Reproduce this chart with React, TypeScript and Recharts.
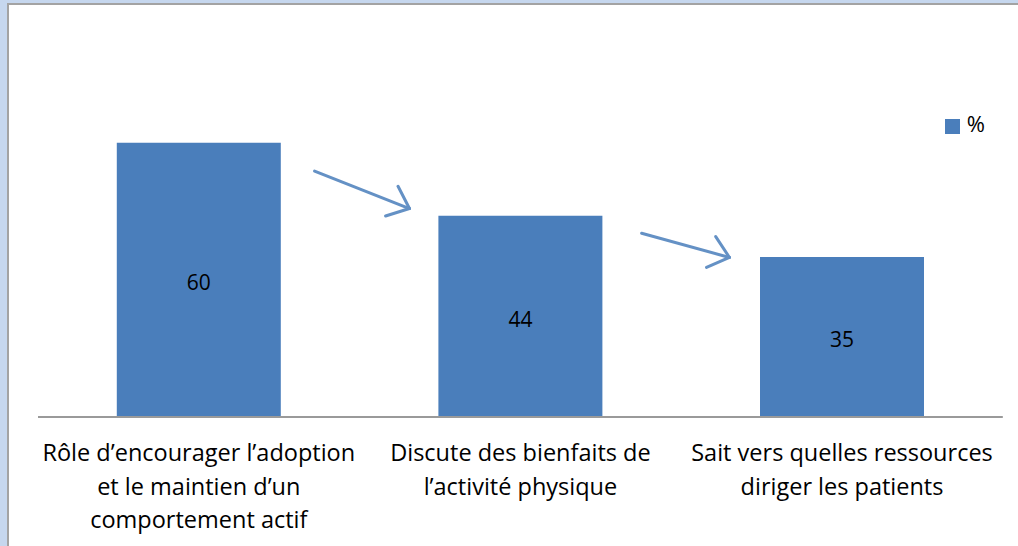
import {
  BarChart,
  Bar,
  XAxis,
  YAxis,
  Legend,
  LabelList,
  ReferenceLine,
} from "recharts";

const categories = [
  "Rôle d’encourager l’adoption\net le maintien d’un\ncomportement actif",
  "Discute des bienfaits de\nl’activité physique",
  "Sait vers quelles ressources\ndiriger les patients",
];
const percents = [60, 44, 35];
const seriesName = "%";

// decorative arrows between neighbouring bars: values at both ends,
// and where the arrow starts/ends as a fraction of the gap between bar centres
const arrows = [
  { from: 0, to: 1, y1: 53.8, y2: 45.6, t1: 0.36, t2: 0.655 },
  { from: 1, to: 2, y1: 40.2, y2: 34.9, t1: 0.377, t2: 0.65 },
];

const data = categories.map((name, i) => ({ name, value: percents[i] }));

const BLUE = "#4A7EBB";
const FONT = "'Open Sans', 'Liberation Sans', Arial, sans-serif";

const CategoryTick = (props: any) => {
  const { x, y, payload } = props;
  const lines = String(payload.value).split("\n");
  return (
    <g transform={`translate(${x},${y})`}>
      {lines.map((line: string, i: number) => (
        <text
          key={i}
          x={0}
          y={0}
          dy={36 + i * 33.5}
          textAnchor="middle"
          fill="#000"
          fontSize={23.5}
          fontFamily={FONT}
        >
          {line}
        </text>
      ))}
    </g>
  );
};

const Arrow = (props: any) => {
  const { x1, y1, x2, y2, t1, t2 } = props;
  const sx = x1 + (x2 - x1) * t1;
  const ex = x1 + (x2 - x1) * t2;
  const ang = Math.atan2(y2 - y1, ex - sx);
  const len = 25;
  const b1 = ang + Math.PI - 0.68;
  const b2 = ang + Math.PI + 0.72;
  return (
    <g stroke={BLUE} strokeWidth={3} strokeLinecap="round" fill="none" opacity={0.85}>
      <line x1={sx} y1={y1} x2={ex} y2={y2} />
      <line x1={ex} y1={y2} x2={ex + len * Math.cos(b1)} y2={y2 + len * Math.sin(b1)} />
      <line x1={ex} y1={y2} x2={ex + len * Math.cos(b2)} y2={y2 + len * Math.sin(b2)} />
    </g>
  );
};

export default function App() {
  return (
    <div
      style={{
        position: "fixed",
        left: 0,
        top: 0,
        width: 1018,
        height: 546,
        background: "#C6D7EE",
        overflow: "hidden",
      }}
    >
      <div
        style={{
          position: "absolute",
          left: 7,
          top: 3,
          right: 0,
          bottom: 0,
          background: "#fff",
          borderLeft: "2px solid #A3A3A3",
          borderTop: "2px solid #A3A3A3",
        }}
      />
      <div style={{ position: "absolute", left: 0, top: 0 }}>
        <BarChart
          width={1018}
          height={546}
          data={data}
          margin={{ top: 97, right: -35, bottom: 128, left: 38 }}
          barCategoryGap="24.5%"
        >
          <XAxis
            dataKey="name"
            interval={0}
            tickLine={false}
            axisLine={{ stroke: "#9A9A9A", strokeWidth: 2 }}
            tick={<CategoryTick />}
            height={1}
          />
          <YAxis domain={[0, 70]} hide />
          <Legend
            layout="vertical"
            align="right"
            verticalAlign="top"
            iconType="square"
            iconSize={15}
            wrapperStyle={{ top: 108, right: 23, fontFamily: FONT, fontSize: 22 }}
            formatter={(v: string) => (
              <span style={{ color: "#000", marginLeft: 3 }}>{v}</span>
            )}
          />
          <Bar dataKey="value" name={seriesName} fill={BLUE} isAnimationActive={false}>
            <LabelList
              dataKey="value"
              position="center"
              fill="#000"
              fontSize={21}
              fontFamily={FONT}
              dy={3}
            />
          </Bar>
          {arrows.map((a, i) => (
            <ReferenceLine
              key={i}
              segment={[
                { x: categories[a.from], y: a.y1 },
                { x: categories[a.to], y: a.y2 },
              ]}
              ifOverflow="visible"
              shape={<Arrow t1={a.t1} t2={a.t2} />}
            />
          ))}
        </BarChart>
      </div>
    </div>
  );
}
